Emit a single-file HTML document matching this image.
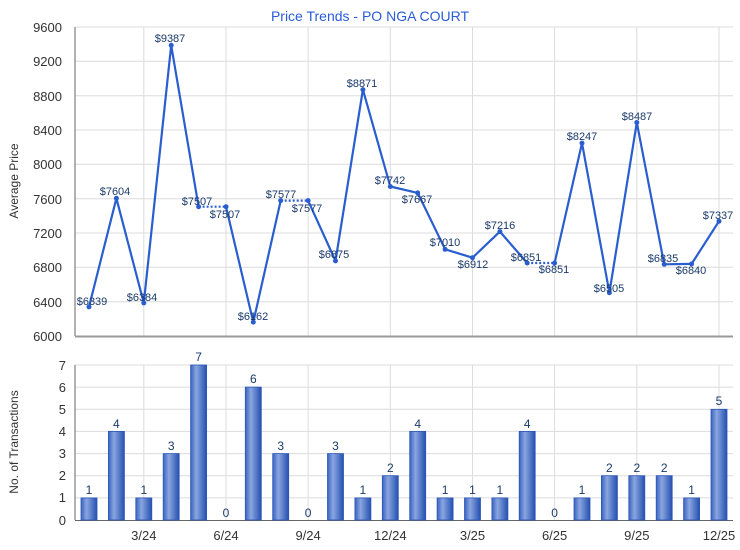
<!DOCTYPE html>
<html><head><meta charset="utf-8"><style>
body{margin:0;background:#fff}
svg{display:block;font-family:"Liberation Sans",sans-serif}
</style></head><body>
<svg width="740" height="550" viewBox="0 0 740 550" xmlns="http://www.w3.org/2000/svg">
<defs>
<linearGradient id="bg" x1="0" x2="1" y1="0" y2="0">
<stop offset="0" stop-color="#3a63c0"/><stop offset="0.35" stop-color="#8aa6e0"/><stop offset="1" stop-color="#2550b0"/>
</linearGradient>
</defs>
<rect width="740" height="550" fill="#fff"/>
<text x="370" y="21" text-anchor="middle" font-size="14" fill="#2a5bd7">Price Trends - PO NGA COURT</text>
<!-- top grid -->
<g stroke="#dcdcdc" stroke-width="1">
<line x1="75" x2="733" y1="27" y2="27"/><line x1="75" x2="733" y1="61.3" y2="61.3"/><line x1="75" x2="733" y1="95.7" y2="95.7"/><line x1="75" x2="733" y1="130" y2="130"/><line x1="75" x2="733" y1="164.3" y2="164.3"/><line x1="75" x2="733" y1="198.7" y2="198.7"/><line x1="75" x2="733" y1="233" y2="233"/><line x1="75" x2="733" y1="267.3" y2="267.3"/><line x1="75" x2="733" y1="301.7" y2="301.7"/>
<line x1="143.8" x2="143.8" y1="27" y2="336"/><line x1="226" x2="226" y1="27" y2="336"/><line x1="308.1" x2="308.1" y1="27" y2="336"/><line x1="390.3" x2="390.3" y1="27" y2="336"/><line x1="472.5" x2="472.5" y1="27" y2="336"/><line x1="554.6" x2="554.6" y1="27" y2="336"/><line x1="636.8" x2="636.8" y1="27" y2="336"/><line x1="719" x2="719" y1="27" y2="336"/>
</g>
<line x1="75" x2="75" y1="27" y2="336" stroke="#666"/>
<line x1="75" x2="733" y1="336.5" y2="336.5" stroke="#999" stroke-width="2"/>
<g font-size="13" fill="#333" text-anchor="end">
<text x="62" y="32">9600</text><text x="62" y="66">9200</text><text x="62" y="101">8800</text><text x="62" y="135">8400</text><text x="62" y="169">8000</text><text x="62" y="204">7600</text><text x="62" y="238">7200</text><text x="62" y="272">6800</text><text x="62" y="307">6400</text><text x="62" y="341">6000</text>
</g>
<text transform="translate(18,181) rotate(-90)" text-anchor="middle" font-size="12" fill="#333">Average Price</text>
<!-- line -->
<g fill="none" stroke="#2a5ecf" stroke-width="2.2" stroke-linejoin="round">
<polyline points="89,306.9 116.4,198.3 143.8,303 171.2,45.3 198.6,206.7"/>
<polyline points="226,206.7 253.3,322.1 280.7,200.6"/>
<polyline points="308.1,200.6 335.5,260.9 362.9,89.6 390.3,186.5 417.7,192.9 445.1,249.3 472.5,257.7 499.9,231.6 527.2,263"/>
<polyline points="554.6,263 582,143.1 609.4,292.7 636.8,122.5 664.2,264.3 691.6,263.9 719,221.2"/>
</g>
<g stroke="#2a5ecf" stroke-width="2.2" stroke-dasharray="2,2">
<line x1="198.6" y1="206.7" x2="226" y2="206.7"/><line x1="280.7" y1="200.6" x2="308.1" y2="200.6"/><line x1="527.2" y1="263" x2="554.6" y2="263"/>
</g>
<g fill="#2a5ecf">
<circle cx="89" cy="306.9" r="2.5"/><circle cx="116.4" cy="198.3" r="2.5"/><circle cx="143.8" cy="303" r="2.5"/><circle cx="171.2" cy="45.3" r="2.5"/><circle cx="198.6" cy="206.7" r="2.5"/><circle cx="226" cy="206.7" r="2.5"/><circle cx="253.3" cy="322.1" r="2.5"/><circle cx="280.7" cy="200.6" r="2.5"/><circle cx="308.1" cy="200.6" r="2.5"/><circle cx="335.5" cy="260.9" r="2.5"/><circle cx="362.9" cy="89.6" r="2.5"/><circle cx="390.3" cy="186.5" r="2.5"/><circle cx="417.7" cy="192.9" r="2.5"/><circle cx="445.1" cy="249.3" r="2.5"/><circle cx="472.5" cy="257.7" r="2.5"/><circle cx="499.9" cy="231.6" r="2.5"/><circle cx="527.2" cy="263" r="2.5"/><circle cx="554.6" cy="263" r="2.5"/><circle cx="582" cy="143.1" r="2.5"/><circle cx="609.4" cy="292.7" r="2.5"/><circle cx="636.8" cy="122.5" r="2.5"/><circle cx="664.2" cy="264.3" r="2.5"/><circle cx="691.6" cy="263.9" r="2.5"/><circle cx="719" cy="221.2" r="2.5"/>
</g>
<g font-size="11" fill="#1a3a6a" text-anchor="middle">
<text x="92" y="305">$6339</text><text x="115" y="195">$7604</text><text x="142" y="301">$6384</text><text x="170" y="42">$9387</text><text x="197" y="205">$7507</text><text x="225" y="218">$7507</text><text x="253" y="320">$6162</text><text x="281" y="198">$7577</text><text x="307" y="212">$7577</text><text x="334" y="258">$6875</text><text x="362" y="87">$8871</text><text x="390" y="184">$7742</text><text x="417" y="203">$7667</text><text x="445" y="246">$7010</text><text x="473" y="268">$6912</text><text x="500" y="229">$7216</text><text x="526" y="261">$6851</text><text x="554" y="273">$6851</text><text x="582" y="140">$8247</text><text x="609" y="292">$6505</text><text x="637" y="120">$8487</text><text x="663" y="262">$6835</text><text x="691" y="274">$6840</text><text x="718" y="219">$7337</text>
</g>
<!-- bottom grid -->
<g stroke="#dcdcdc" stroke-width="1">
<line x1="75" x2="733" y1="365" y2="365"/><line x1="75" x2="733" y1="387.1" y2="387.1"/><line x1="75" x2="733" y1="409.3" y2="409.3"/><line x1="75" x2="733" y1="431.4" y2="431.4"/><line x1="75" x2="733" y1="453.6" y2="453.6"/><line x1="75" x2="733" y1="475.7" y2="475.7"/><line x1="75" x2="733" y1="497.9" y2="497.9"/>
<line x1="143.8" x2="143.8" y1="365" y2="520"/><line x1="226" x2="226" y1="365" y2="520"/><line x1="308.1" x2="308.1" y1="365" y2="520"/><line x1="390.3" x2="390.3" y1="365" y2="520"/><line x1="472.5" x2="472.5" y1="365" y2="520"/><line x1="554.6" x2="554.6" y1="365" y2="520"/><line x1="636.8" x2="636.8" y1="365" y2="520"/><line x1="719" x2="719" y1="365" y2="520"/>
</g>
<line x1="75" x2="75" y1="365" y2="520" stroke="#666"/>
<line x1="75" x2="733" y1="520.5" y2="520.5" stroke="#666"/>
<g font-size="13" fill="#333" text-anchor="end">
<text x="66" y="370">7</text><text x="66" y="392">6</text><text x="66" y="414">5</text><text x="66" y="436">4</text><text x="66" y="458">3</text><text x="66" y="480">2</text><text x="66" y="502">1</text><text x="66" y="525">0</text>
</g>
<text transform="translate(18,442) rotate(-90)" text-anchor="middle" font-size="12" fill="#333">No. of Transactions</text>
<g fill="url(#bg)" stroke="#2a56b8" stroke-width="0.8">
<rect x="81" y="497.9" width="16" height="22.1"/><rect x="108.4" y="431.4" width="16" height="88.6"/><rect x="135.8" y="497.9" width="16" height="22.1"/><rect x="163.2" y="453.6" width="16" height="66.4"/><rect x="190.6" y="365" width="16" height="155"/><rect x="245.3" y="387.1" width="16" height="132.9"/><rect x="272.7" y="453.6" width="16" height="66.4"/><rect x="327.5" y="453.6" width="16" height="66.4"/><rect x="354.9" y="497.9" width="16" height="22.1"/><rect x="382.3" y="475.7" width="16" height="44.3"/><rect x="409.7" y="431.4" width="16" height="88.6"/><rect x="437.1" y="497.9" width="16" height="22.1"/><rect x="464.5" y="497.9" width="16" height="22.1"/><rect x="491.9" y="497.9" width="16" height="22.1"/><rect x="519.2" y="431.4" width="16" height="88.6"/><rect x="574" y="497.9" width="16" height="22.1"/><rect x="601.4" y="475.7" width="16" height="44.3"/><rect x="628.8" y="475.7" width="16" height="44.3"/><rect x="656.2" y="475.7" width="16" height="44.3"/><rect x="683.6" y="497.9" width="16" height="22.1"/><rect x="711" y="409.3" width="16" height="110.7"/>
</g>
<g font-size="12" fill="#1a3a6a" text-anchor="middle">
<text x="89" y="494">1</text><text x="116.4" y="428">4</text><text x="143.8" y="494">1</text><text x="171.2" y="450">3</text><text x="198.6" y="361">7</text><text x="226" y="517">0</text><text x="253.3" y="383">6</text><text x="280.7" y="450">3</text><text x="308.1" y="517">0</text><text x="335.5" y="450">3</text><text x="362.9" y="494">1</text><text x="390.3" y="472">2</text><text x="417.7" y="428">4</text><text x="445.1" y="494">1</text><text x="472.5" y="494">1</text><text x="499.9" y="494">1</text><text x="527.2" y="428">4</text><text x="554.6" y="517">0</text><text x="582" y="494">1</text><text x="609.4" y="472">2</text><text x="636.8" y="472">2</text><text x="664.2" y="472">2</text><text x="691.6" y="494">1</text><text x="719" y="405">5</text>
</g>
<g font-size="13" fill="#333" text-anchor="middle">
<text x="143.8" y="540">3/24</text><text x="226" y="540">6/24</text><text x="308.1" y="540">9/24</text><text x="390.3" y="540">12/24</text><text x="472.5" y="540">3/25</text><text x="554.6" y="540">6/25</text><text x="636.8" y="540">9/25</text><text x="719" y="540">12/25</text>
</g>
</svg>
</body></html>
